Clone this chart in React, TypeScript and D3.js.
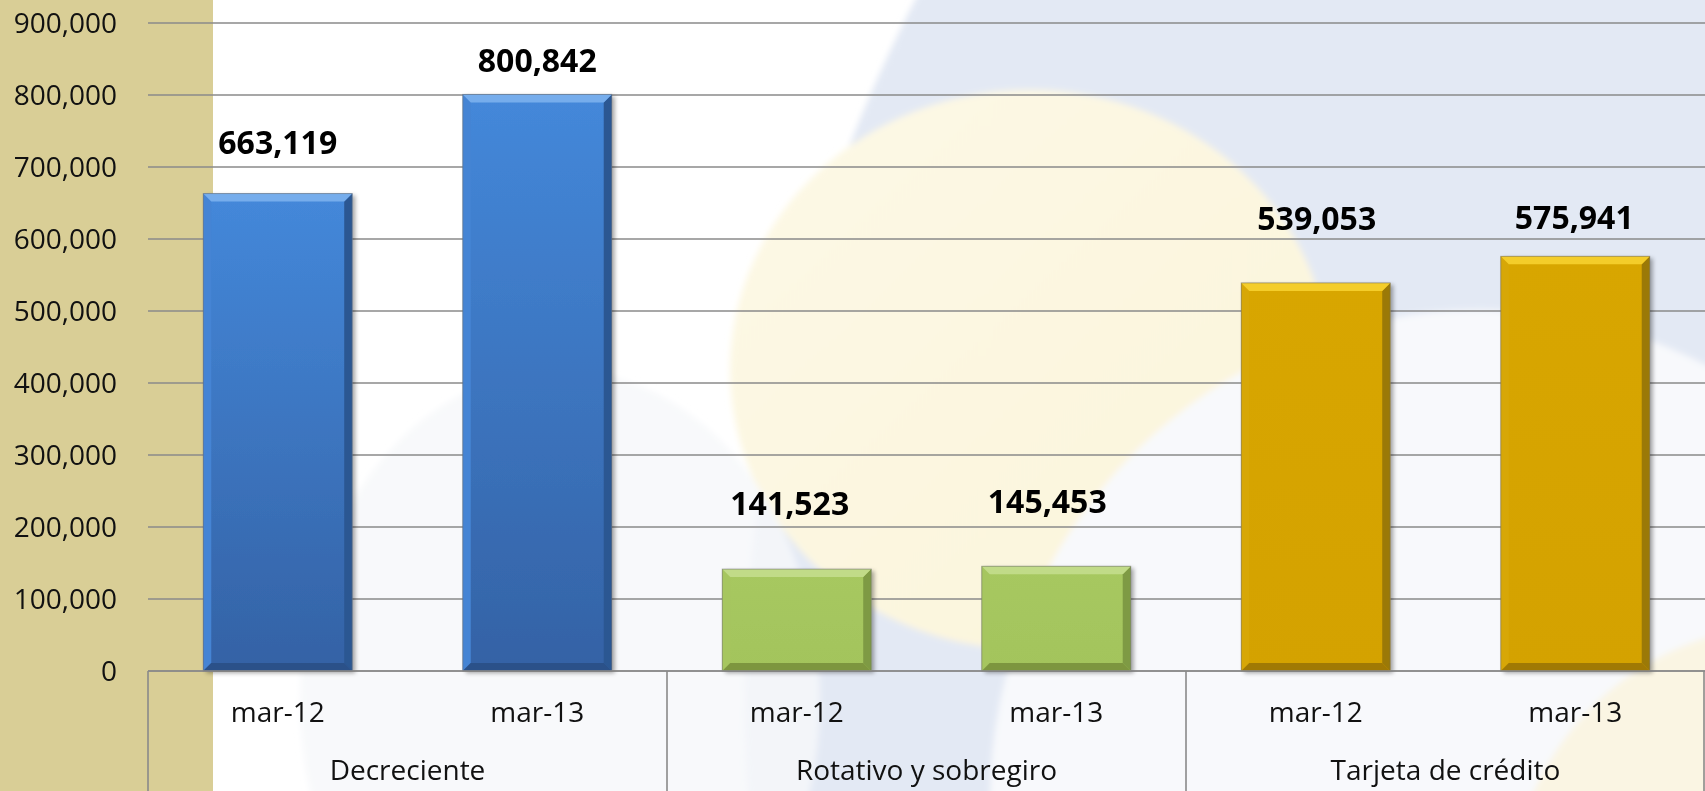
import React from "react";
import * as d3 from "d3";

const categories = ["Decreciente", "Rotativo y sobregiro", "Tarjeta de crédito"];
const periods = ["mar-12", "mar-13"];
const decreciente = [663119, 800842];
const rotativo = [141523, 145453];
const tarjeta = [539053, 575941];
const yTicks = [0, 100000, 200000, 300000, 400000, 500000, 600000, 700000, 800000, 900000];

// label placement (pixels above bar top) as in the original slide
const labelLift = [[40, 22], [54, 53], [53, 27]];
const labelDx = [[0, 0], [-7, -9], [1, -1]];

const W = 1705;
const H = 791;
const M = { left: 148, right: 1705, top: 23, bottom: 671 };
const FONT = "'Open Sans', 'Noto Sans', sans-serif";

const styles = [
  { fillTop: "#4488DA", fillBot: "#3462A5", top: "#76ADEC", left: "#4584D4", right: "#2B5792", bottom: "#2B5189" },
  { fillTop: "#A7C860", fillBot: "#A3C45C", top: "#C1DB88", left: "#A6C65F", right: "#7E9A44", bottom: "#7D963F" },
  { fillTop: "#D8A606", fillBot: "#D4A204", top: "#F4CD2A", left: "#D7A707", right: "#9B7907", bottom: "#A07904" },
];

export default function App() {
  const seriesValues = [decreciente, rotativo, tarjeta];
  const bars = categories.flatMap((c, ci) =>
    periods.map((p, pi) => ({ key: `${c}|${p}`, ci, pi, period: p, value: seriesValues[ci][pi] }))
  );
  const x = d3
    .scaleBand<string>()
    .domain(bars.map((b) => b.key))
    .range([M.left, M.right])
    .paddingInner(0.426)
    .paddingOuter(0.213);
  const y = d3.scaleLinear().domain([0, 900000]).range([M.bottom, M.top]);
  const fmt = d3.format(",");
  const bw = x.bandwidth();
  const step = x.step();
  const bev = 8;

  return (
    <svg
      width={W}
      height={H}
      viewBox={`0 0 ${W} ${H}`}
      style={{ position: "absolute", left: 0, top: 0, display: "block" }}
    >
      <defs>
        <filter id="soft" x="-10%" y="-10%" width="120%" height="120%">
          <feGaussianBlur stdDeviation="3" />
        </filter>
        <filter id="shadow" x="-10%" y="-10%" width="130%" height="130%">
          <feDropShadow dx="3" dy="2" stdDeviation="2" floodColor="#000" floodOpacity="0.35" />
        </filter>
        {styles.map((s, i) => (
          <linearGradient key={i} id={`g${i}`} x1="0" y1="0" x2="0" y2="1">
            <stop offset="0" stopColor={s.fillTop} />
            <stop offset="1" stopColor={s.fillBot} />
          </linearGradient>
        ))}
        <linearGradient id="yel" x1="0" y1="0" x2="1" y2="1">
          <stop offset="0" stopColor="#FDF9E6" />
          <stop offset="1" stopColor="#FBF4DA" />
        </linearGradient>
        <clipPath id="page">
          <rect x={0} y={0} width={W} height={H} />
        </clipPath>
      </defs>

      {/* background */}
      <g clipPath="url(#page)">
        <rect x={0} y={0} width={W} height={H} fill="#FFFFFF" />
        <g filter="url(#soft)">
          <circle cx={2270} cy={700} r={1525} fill="#E3E9F4" />
          <ellipse cx={1030} cy={370} rx={300} ry={280} fill="url(#yel)" />
          <ellipse cx={560} cy={700} rx={260} ry={330} fill="#F6F7FA" opacity={0.8} />
          <circle cx={1480} cy={800} r={490} fill="#F8F9FC" />
          <circle cx={1790} cy={905} r={280} fill="#FAF5E3" />
        </g>
        <rect x={0} y={0} width={213} height={H} fill="#D9CE96" />
      </g>

      {/* gridlines */}
      {yTicks.map((t) => (
        <line
          key={t}
          x1={M.left}
          x2={M.right}
          y1={y(t)}
          y2={y(t)}
          stroke="#8A8A8A"
          strokeWidth={1.6}
        />
      ))}

      {/* y tick labels */}
      {yTicks.map((t) => (
        <text
          key={"l" + t}
          x={117}
          y={y(t) + 10}
          textAnchor="end"
          fontFamily={FONT}
          fontSize={28}
          fill="#111"
        >
          {fmt(t)}
        </text>
      ))}

      {/* group separators on the category axis */}
      {d3.range(categories.length + 1).map((i) => {
        const gx = Math.min(M.left + i * 2 * step, W - 1);
        return (
          <line key={"s" + i} x1={gx} x2={gx} y1={M.bottom} y2={H} stroke="#8A8A8A" strokeWidth={1.6} />
        );
      })}

      {/* bars */}
      {bars.map((b) => {
        const s = styles[b.ci];
        const x0 = x(b.key)!;
        const x1 = x0 + bw;
        const y0 = y(b.value);
        const y1 = y(0);
        const p = (pts: number[][]) => pts.map((q) => q.join(",")).join(" ");
        return (
          <g key={b.key}>
            <rect x={x0} y={y0} width={bw} height={y1 - y0} fill={`url(#g${b.ci})`} filter="url(#shadow)" />
            <polygon points={p([[x0, y0], [x0 + bev, y0 + bev], [x0 + bev, y1 - bev], [x0, y1]])} fill={s.left} />
            <polygon points={p([[x1, y0], [x1 - bev, y0 + bev], [x1 - bev, y1 - bev], [x1, y1]])} fill={s.right} />
            <polygon points={p([[x0, y1], [x0 + bev, y1 - bev], [x1 - bev, y1 - bev], [x1, y1]])} fill={s.bottom} />
            <polygon points={p([[x0, y0], [x1, y0], [x1 - bev, y0 + bev], [x0 + bev, y0 + bev]])} fill={s.top} />
            <rect x={x0} y={y0} width={bw} height={y1 - y0} fill="none" stroke="#6E6E6E" strokeOpacity={0.55} strokeWidth={1} />
          </g>
        );
      })}

      {/* x axis line */}
      <line x1={M.left} x2={M.right} y1={M.bottom} y2={M.bottom} stroke="#8A8A8A" strokeWidth={1.6} />

      {/* data labels */}
      {bars.map((b) => (
        <text
          key={"v" + b.key}
          x={x(b.key)! + bw / 2 + labelDx[b.ci][b.pi]}
          y={y(b.value) - labelLift[b.ci][b.pi]}
          textAnchor="middle"
          fontFamily={FONT}
          fontWeight={700}
          fontSize={32}
          fill="#000"
        >
          {fmt(b.value)}
        </text>
      ))}

      {/* period labels */}
      {bars.map((b) => (
        <text
          key={"p" + b.key}
          x={x(b.key)! + bw / 2}
          y={722}
          textAnchor="middle"
          fontFamily={FONT}
          fontSize={28}
          fill="#111"
        >
          {b.period}
        </text>
      ))}

      {/* category labels */}
      {categories.map((c) => {
        const a = x(`${c}|${periods[0]}`)!;
        const e = x(`${c}|${periods[periods.length - 1]}`)! + bw;
        return (
          <text
            key={"c" + c}
            x={(a + e) / 2}
            y={780}
            textAnchor="middle"
            fontFamily={FONT}
            fontSize={28}
            fill="#111"
          >
            {c}
          </text>
        );
      })}
    </svg>
  );
}
